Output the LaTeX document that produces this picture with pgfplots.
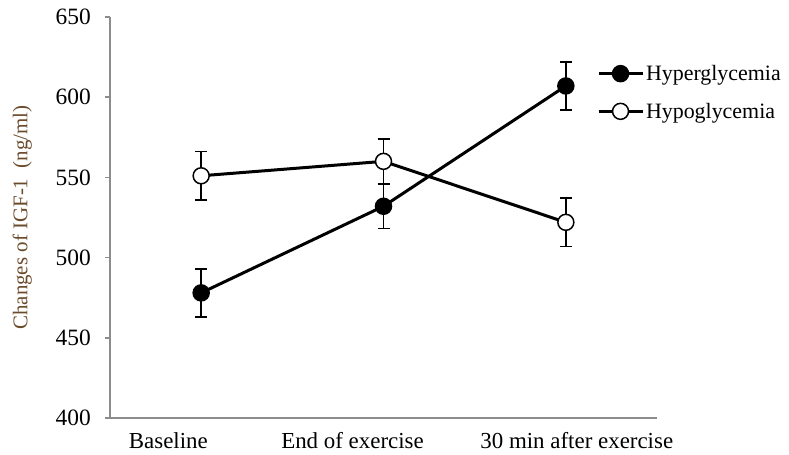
\documentclass[border=0pt]{standalone}
\usepackage{pgfplots}
\pgfplotsset{compat=1.18}
\usepackage{fontspec}
\setmainfont{Liberation Serif}
\definecolor{axgray}{HTML}{8C8C8C}
\definecolor{labbrown}{HTML}{6B4A2A}
\begin{document}
\begin{tikzpicture}[x=1bp,y=1bp]
\path[use as bounding box] (-110,-37) rectangle (679,418);
\begin{axis}[
  at={(0,0)}, anchor=south west,
  scale only axis,
  width=547bp, height=401bp,
  xmin=-0.5, xmax=2.5,
  ymin=400, ymax=650,
  /pgf/number format/assume math mode=true,
  axis x line=bottom, axis y line=left,
  axis line style={draw=axgray, line width=1.5bp, -},
  ytick={400,450,...,650},
  y tick style={draw=axgray, line width=1.5bp},
  major tick length=5bp,
  tick align=outside,
  yticklabel style={font=\fontsize{23.5}{26}\selectfont, inner sep=0pt, xshift=-14bp},
  xtick={-0.18,0.83,2.06},
  xticklabels={Baseline, End of exercise, 30 min after exercise},
  x tick style={draw=none},
  xticklabel style={font=\fontsize{23}{26}\selectfont, inner sep=0pt, yshift=-9bp},
  ylabel={Changes of IGF-1\ \ (ng/ml)},
  ylabel style={font=\fontsize{21}{24}\selectfont, text=labbrown, at={(rel axis cs:0,0.5)}, anchor=south, inner sep=0pt, yshift=78bp},
  clip=false,
  legend style={draw=none, fill=none, at={(0.89,0.885)}, anchor=north west,
    font=\fontsize{22}{25}\selectfont, row sep=17bp, inner sep=0pt,
    legend cell align=left},
  legend image code/.code={
    \draw[line width=3bp] (0bp,0bp) -- (44bp,0bp);
    \draw[#1, line width=1.5bp] plot coordinates {(22bp,0bp)};
  },
]
\addplot[black, line width=3bp, mark=*, mark size=8bp,
  mark options={fill=black, draw=black, line width=1.5bp},
  error bars/.cd, y dir=both, y explicit,
  error bar style={line width=1.5bp, black},
  error mark options={rotate=90, mark size=6bp, line width=1.5bp, black}]
  coordinates {
  (0,478) +- (0,15)
  (1,532) +- (0,14)
  (2,607) +- (0,15)
  };
\addlegendentry{Hyperglycemia}
\addplot[black, line width=3bp, mark=*, mark size=8bp,
  mark options={fill=white, draw=black, line width=1.5bp},
  error bars/.cd, y dir=both, y explicit,
  error bar style={line width=1.5bp, black},
  error mark options={rotate=90, mark size=6bp, line width=1.5bp, black}]
  coordinates {
  (0,551) +- (0,15)
  (1,560) +- (0,14)
  (2,522) +- (0,15)
  };
\addlegendentry{Hypoglycemia}
\end{axis}
\end{tikzpicture}
\end{document}
